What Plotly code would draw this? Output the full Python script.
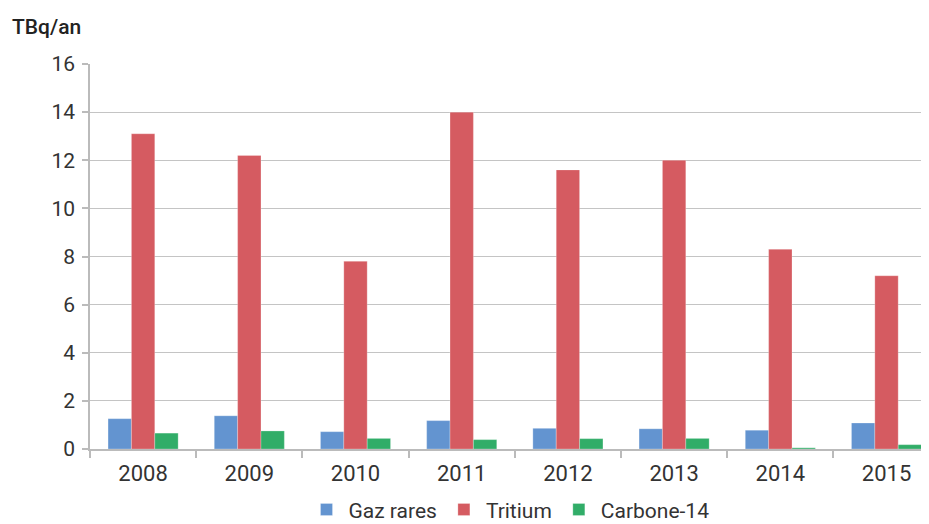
import plotly.graph_objects as go

years = ["2008", "2009", "2010", "2011", "2012", "2013", "2014", "2015"]
gaz_rares = [1.26, 1.38, 0.72, 1.18, 0.86, 0.84, 0.78, 1.08]
tritium = [13.1, 12.2, 7.8, 14.0, 11.6, 12.0, 8.3, 7.2]
carbone14 = [0.66, 0.75, 0.44, 0.39, 0.43, 0.44, 0.05, 0.18]
y_ticks = [0, 2, 4, 6, 8, 10, 12, 14, 16]

font_family = "Roboto, Liberation Sans, sans-serif"

fig = go.Figure()
for name, vals, col in [("Gaz rares", gaz_rares, "#6394D0"),
                        ("Tritium", tritium, "#D55B61"),
                        ("Carbone-14", carbone14, "#31AD68")]:
    fig.add_trace(go.Bar(x=years, y=vals, name=name,
                         marker=dict(color=col, line=dict(color="rgba(255,255,255,0.5)", width=0.5))))

# the page body adds an 8px margin, so the figure is 8px smaller and offset
fig.update_layout(
    width=921, height=516,
    margin=dict(l=82, r=0, t=56, b=75, autoexpand=False),
    paper_bgcolor="white", plot_bgcolor="white",
    barmode="group", bargap=0.34, bargroupgap=0,
    font=dict(family=font_family, size=20, color="#333333"),
    showlegend=True,
    legend=dict(orientation="h", x=0.5, xanchor="center", y=-0.158, yanchor="middle",
                font=dict(size=21, color="#333333"), itemwidth=34, tracegroupgap=0),
    annotations=[dict(text="TBq/an", xref="paper", yref="paper", x=-0.0954, y=1.096,
                      xanchor="left", yanchor="middle", showarrow=False,
                      font=dict(size=21, color="#222222", family=font_family, weight=500))],
)
fig.update_xaxes(
    type="category", range=[-0.5, 7.4],
    showline=True, linecolor="#BBBBBB", linewidth=1.5,
    ticks="outside", tickson="boundaries", ticklen=7, tickcolor="#BBBBBB", tickwidth=1.5,
    ticklabelstandoff=4,
    showgrid=False, tickfont=dict(size=22, color="#333333"),
)
fig.update_yaxes(
    range=[0, 16], tickvals=y_ticks,
    showline=True, linecolor="#BBBBBB", linewidth=1.5,
    ticks="outside", ticklen=6, tickcolor="#BBBBBB", tickwidth=1.5,
    ticklabelstandoff=3,
    showgrid=True, gridcolor="#C4C4C4", gridwidth=1.2,
    zeroline=False, tickfont=dict(size=21, color="#333333"),
)

fig.write_html("out.html")
